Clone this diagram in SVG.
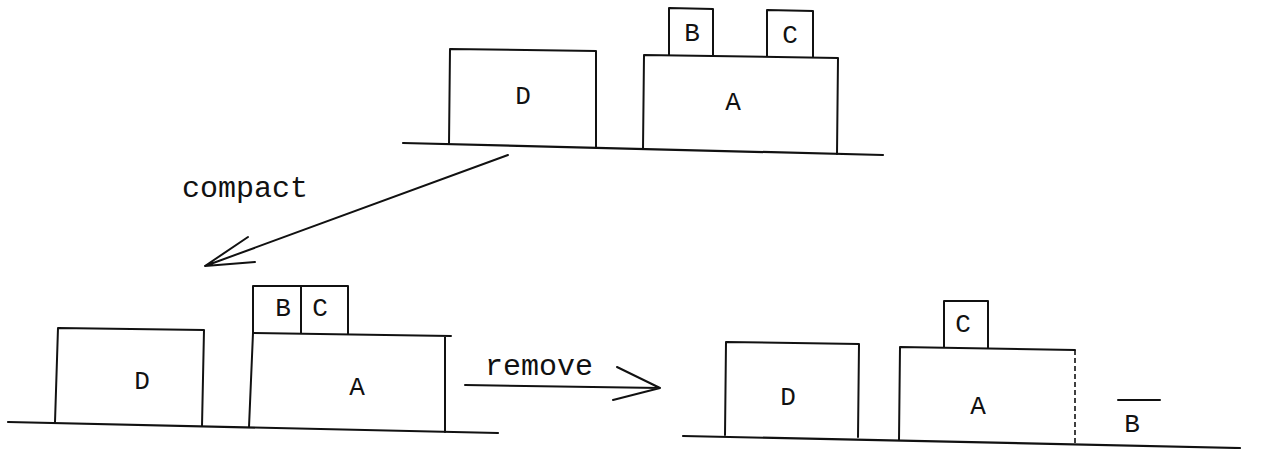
<svg xmlns="http://www.w3.org/2000/svg" width="1264" height="449" viewBox="0 0 1264 449">
<style>
.s{fill:none;stroke:#111;stroke-width:2;stroke-linecap:round;stroke-linejoin:round}
.g{fill:none;stroke:#111;stroke-width:2.2;stroke-linecap:round}
.d{fill:none;stroke:#111;stroke-width:1.6;stroke-dasharray:5 3}
.l{font-family:"Liberation Mono","Courier New",monospace;font-size:26px;fill:#111;text-anchor:middle;dominant-baseline:central}
.t{font-family:"Liberation Mono","Courier New",monospace;font-size:30px;fill:#111}
</style>
<rect width="1264" height="449" fill="#fff"/>
<g id="ground">
<path class="g" d="M403,143 L883,155"/>
<path class="g" d="M8,422 L498,433"/>
<path class="g" d="M683,436 L1240,448"/>
</g>
<g id="top-D"><path class="s" d="M449,144 L450,49 L596,51 L596,147"/><text class="l" x="523" y="97">D</text></g>
<g id="top-A"><path class="s" d="M643,149 L644,55 L838,58 L837,154"/><text class="l" x="733" y="103">A</text></g>
<g id="top-B"><path class="s" d="M669,55 L669,8 L713,9 L713,55"/><text class="l" x="692" y="34">B</text></g>
<g id="top-C"><path class="s" d="M767,56 L767,10 L813,11 L813,57"/><text class="l" x="790" y="36">C</text></g>
<g id="mid-D"><path class="s" d="M55,422 L58,328 L204,330 L202,426"/><text class="l" x="142" y="382">D</text></g>
<g id="mid-A"><path class="s" d="M249,427 L253,333 L451,336 M445,336 L445,432"/><text class="l" x="357" y="388">A</text></g>
<g id="mid-BC"><path class="s" d="M253,333 L253,286 L348,286 L348,334 M301,286 L301,333"/><text class="l" x="283" y="309">B</text><text class="l" x="320" y="309">C</text></g>
<g id="bot-D"><path class="s" d="M725,435 L726,342 L859,344 L858,437"/><text class="l" x="788" y="398">D</text></g>
<g id="bot-A"><path class="s" d="M899,440 L900,347 L1075,350"/><path class="d" d="M1075,350 L1075,446"/><text class="l" x="978" y="407">A</text></g>
<g id="bot-C"><path class="s" d="M944,347 L944,301 L988,301 L988,348"/><text class="l" x="963" y="325">C</text></g>
<g id="bot-B"><path class="s" d="M1118,400 L1160,400"/><text class="l" x="1132" y="425">B</text></g>
<g id="connectors">
<path class="s" d="M508,155 L205,266 M248,237 L205,266 L255,262"/>
<path class="s" d="M465,385 L660,388 M617,367 L660,388 L613,400"/>
<text class="t" x="182" y="197">compact</text>
<text class="t" x="485" y="375">remove</text>
</g>
</svg>
